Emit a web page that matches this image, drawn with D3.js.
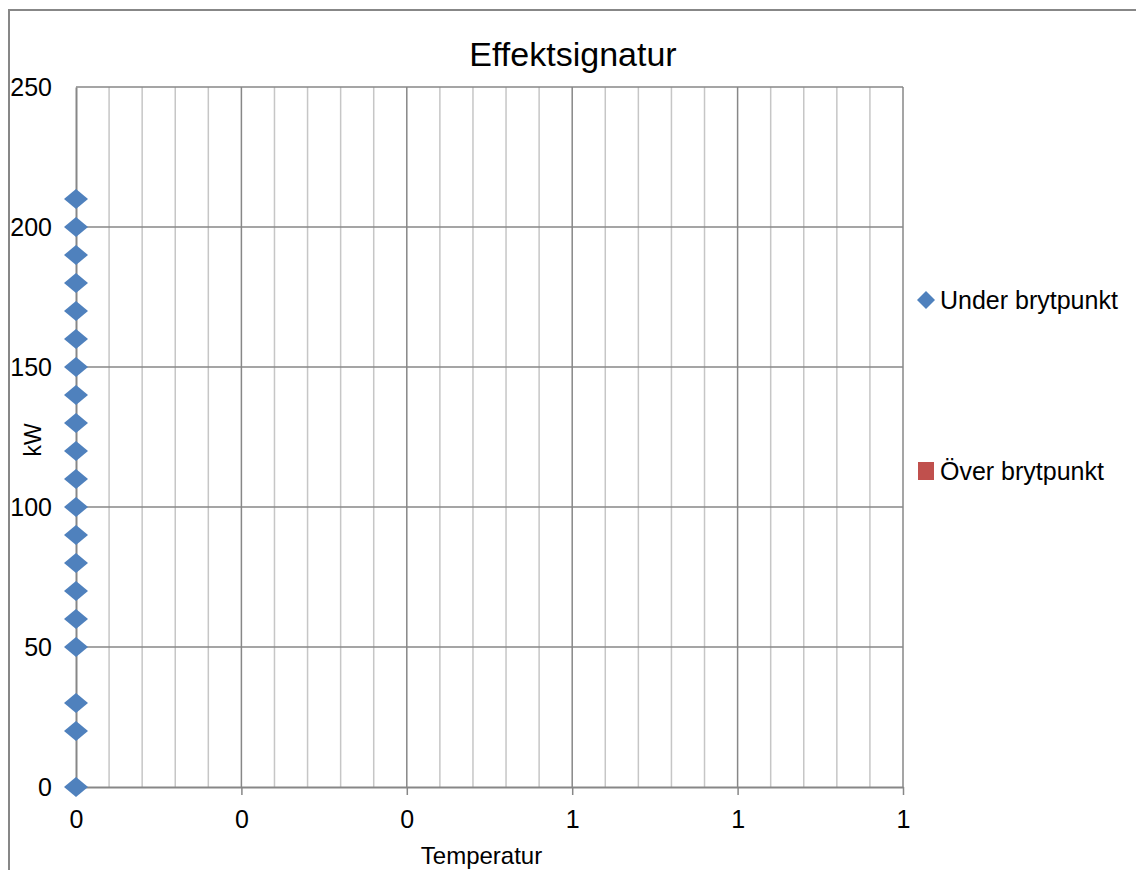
<!DOCTYPE html>
<html>
<head>
<meta charset="utf-8">
<script src="https://cdn.jsdelivr.net/npm/d3@7"></script>
<style>
  html, body { margin: 0; padding: 0; background: #fff; }
  svg { display: block; }
  text { font-family: "Liberation Sans", Arial, sans-serif; fill: #000; }
</style>
</head>
<body>
<svg id="chart" width="1136" height="870"></svg>
<script>
// Series data
const underTemp = [0, 0, 0, 0, 0, 0, 0, 0, 0, 0, 0, 0, 0, 0, 0, 0, 0, 0, 0, 0];
const underKW   = [0, 20, 30, 50, 60, 70, 80, 90, 100, 110, 120, 130, 140, 150, 160, 170, 180, 190, 200, 210];
const overTemp  = [];
const overKW    = [];

// Axis ticks and their displayed labels (values rounded to whole numbers)
const xMajorTicks = [0, 0.2, 0.4, 0.6, 0.8, 1];
const xTickLabels = ["0", "0", "0", "1", "1", "1"];
const xMinorStep = 0.04;
const yTicks = [0, 50, 100, 150, 200, 250];

const seriesNames = ["Under brytpunkt", "Över brytpunkt"];
const seriesColors = ["#4f81bd", "#c0504d"];

const svg = d3.select("#chart");

// Outer chart frame
svg.append("rect")
  .attr("x", 9).attr("y", 10)
  .attr("width", 1200).attr("height", 900)
  .attr("fill", "#fff")
  .attr("stroke", "#878787").attr("stroke-width", 2);

const plot = { left: 76, top: 87, right: 903, bottom: 787 };

const x = d3.scaleLinear().domain([0, 1]).range([plot.left, plot.right]);
const y = d3.scaleLinear().domain([0, 250]).range([plot.bottom, plot.top]);

// Minor vertical gridlines
const minorTicks = d3.range(0, 1 + 1e-9, xMinorStep).filter(v => Math.abs(v / 0.2 - Math.round(v / 0.2)) > 1e-6);
svg.append("g")
  .selectAll("line").data(minorTicks).join("line")
  .attr("x1", d => x(d)).attr("x2", d => x(d))
  .attr("y1", plot.top).attr("y2", plot.bottom)
  .attr("stroke", "#c6c6c6").attr("stroke-width", 1.5);

// Major vertical gridlines
svg.append("g")
  .selectAll("line").data(xMajorTicks.slice(1)).join("line")
  .attr("x1", d => x(d)).attr("x2", d => x(d))
  .attr("y1", plot.top).attr("y2", plot.bottom)
  .attr("stroke", "#878787").attr("stroke-width", 1.5);

// Major horizontal gridlines
svg.append("g")
  .selectAll("line").data(yTicks.slice(1)).join("line")
  .attr("x1", plot.left).attr("x2", plot.right)
  .attr("y1", d => y(d)).attr("y2", d => y(d))
  .attr("stroke", "#878787").attr("stroke-width", 1.5);

// X axis
const xAxis = d3.axisBottom(x)
  .tickValues(xMajorTicks)
  .tickFormat((d, i) => xTickLabels[i])
  .tickSizeInner(8).tickSizeOuter(0).tickPadding(15);
const gx = svg.append("g").attr("transform", `translate(0,${plot.bottom})`).call(xAxis);
gx.select(".domain").attr("stroke", "#878787").attr("stroke-width", 2);
gx.selectAll(".tick line").attr("stroke", "#878787").attr("stroke-width", 1.5);
gx.selectAll(".tick text").style("font-size", "25px").attr("font-family", "Liberation Sans, Arial, sans-serif");

// Y axis
const yAxis = d3.axisLeft(y)
  .tickValues(yTicks)
  .tickSizeInner(0).tickSizeOuter(0).tickPadding(24);
const gy = svg.append("g").attr("transform", `translate(${plot.left},0)`).call(yAxis);
gy.select(".domain").attr("stroke", "#878787").attr("stroke-width", 2);
gy.selectAll(".tick text").style("font-size", "25px").attr("font-family", "Liberation Sans, Arial, sans-serif");

// Titles
svg.append("text")
  .attr("x", 573).attr("y", 66)
  .attr("text-anchor", "middle")
  .style("font-size", "34px")
  .text("Effektsignatur");

svg.append("text")
  .attr("x", (plot.left + plot.right) / 2 - 8).attr("y", 864)
  .attr("text-anchor", "middle")
  .style("font-size", "24px")
  .text("Temperatur");

svg.append("text")
  .attr("transform", `translate(41,${(plot.top + plot.bottom) / 2 + 3}) rotate(-90)`)
  .attr("text-anchor", "middle")
  .style("font-size", "23px")
  .text("kW");

// Diamond marker path
const diamond = (w, h) => `M0,${-h / 2}L${w / 2},0L0,${h / 2}L${-w / 2},0Z`;

// Series markers
const under = underTemp.map((t, i) => ({ t, kw: underKW[i] }));
svg.append("g")
  .selectAll("path").data(under).join("path")
  .attr("d", diamond(24, 20))
  .attr("transform", d => `translate(${x(d.t)},${y(d.kw)})`)
  .attr("fill", seriesColors[0]);

const over = overTemp.map((t, i) => ({ t, kw: overKW[i] }));
svg.append("g")
  .selectAll("rect").data(over).join("rect")
  .attr("x", d => x(d.t) - 8).attr("y", d => y(d.kw) - 8)
  .attr("width", 16).attr("height", 16)
  .attr("fill", seriesColors[1]);

// Legend
const legend = svg.append("g");
legend.append("path")
  .attr("d", diamond(18, 18))
  .attr("transform", "translate(926,300)")
  .attr("fill", seriesColors[0]);
legend.append("text")
  .attr("x", 940).attr("y", 309)
  .style("font-size", "25px")
  .text(seriesNames[0]);
legend.append("rect")
  .attr("x", 918).attr("y", 462)
  .attr("width", 16).attr("height", 18)
  .attr("fill", seriesColors[1]);
legend.append("text")
  .attr("x", 940).attr("y", 480)
  .style("font-size", "25px")
  .text(seriesNames[1]);
</script>
</body>
</html>
